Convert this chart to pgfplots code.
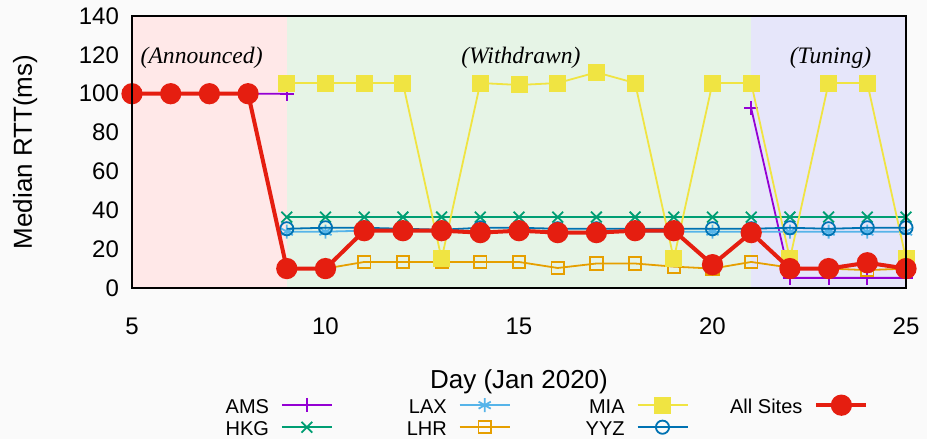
\documentclass[border=0pt]{standalone}
\usepackage{fontspec}
\setmainfont{Liberation Sans}
\newfontfamily\serifit{Liberation Serif}
\usepackage{pgfplots}
\pgfplotsset{compat=1.18}
\definecolor{cams}{HTML}{9400D3}
\definecolor{chkg}{HTML}{009E73}
\definecolor{clax}{HTML}{56B4E9}
\definecolor{clhr}{HTML}{E69F00}
\definecolor{cmia}{HTML}{F0E442}
\definecolor{cyyz}{HTML}{0072B2}
\definecolor{call}{HTML}{E51E10}
\definecolor{bgann}{HTML}{FFE8E8}
\definecolor{bgwd}{HTML}{E6F4E6}
\definecolor{bgtun}{HTML}{E6E6FA}
\definecolor{pagebg}{HTML}{FAFAFA}
\newcommand{\lt}[1]{\makebox[63pt][r]{\rule[-2.5pt]{0pt}{12pt}#1\hspace{6pt}}}
\begin{document}
\begin{tikzpicture}
\path[use as bounding box, fill=pagebg] (-66pt,-75.5pt) rectangle (397.5pt,144pt);
\begin{axis}[
  scale only axis, width=387pt, height=136pt,
  at={(0,0)}, anchor=south west,
  xmin=5, xmax=25, ymin=0, ymax=140,
  xtick={5,10,15,20,25}, ytick={0,20,...,140},
  major tick length=0pt,
  tick label style={font=\fontsize{12}{14}\selectfont},
  /pgf/number format/assume math mode=true,
  xticklabel style={yshift=-11.5pt},
  yticklabel style={xshift=-3pt},
  xlabel={Day (Jan 2020)}, ylabel={Median RTT(ms)},
  label style={font=\fontsize{13}{15}\selectfont},
  xlabel style={at={(axis description cs:0.5,-0.3456)}, anchor=center},
  ylabel style={at={(axis description cs:-0.138,0.5)}, anchor=center, rotate=0},
  axis line style={black, line width=0.6pt},
  clip mode=individual,
  axis on top,
  legend columns=4,
  legend cell align=right,
  legend plot pos=right,
  legend style={at={(axis description cs:0.02972,-0.3904)}, anchor=north west,
    draw=none, fill=none, inner sep=0pt, outer sep=0pt,
    column sep=0pt, row sep=0pt,
    nodes={inner sep=0pt, outer sep=0pt},
    font=\fontsize{10}{12}\selectfont},
  legend image code/.code={\draw[#1, mark repeat=2, mark phase=2] plot coordinates {(0pt,0pt) (12.5pt,0pt) (25pt,0pt)};},
]
% backgrounds
\addplot[fill=bgann, draw=none, forget plot] coordinates {(5,0) (5,140) (9,140) (9,0)} -- cycle;
\addplot[fill=bgwd, draw=none, forget plot] coordinates {(9,0) (9,140) (21,140) (21,0)} -- cycle;
\addplot[fill=bgtun, draw=none, forget plot] coordinates {(21,0) (21,140) (25,140) (25,0)} -- cycle;

\node[font=\serifit\itshape\fontsize{11.8}{14}\selectfont] at (axis cs:6.8,118.3) {(Announced)};
\node[font=\serifit\itshape\fontsize{11.8}{14}\selectfont] at (axis cs:15.05,118.3) {(Withdrawn)};
\node[font=\serifit\itshape\fontsize{11.8}{14}\selectfont] at (axis cs:23.05,118.3) {(Tuning)};

% AMS
\addplot[cams, line width=0.9pt, mark=+, mark size=3.6pt, forget plot, unbounded coords=jump] coordinates {
(5,100) (6,100) (7,100) (8,100) (9,100) (10,nan) (20,nan) (21,92.5) (22,5.2) (23,5.2) (24,5.2) (25,5.2)};
% HKG
\addplot[chkg, line width=0.9pt, mark=x, mark size=3.8pt, forget plot] coordinates {
(9,36.5) (10,36.5) (11,36.5) (12,36.5) (13,36.5) (14,36.5) (15,36.5) (16,36.5) (17,36.5) (18,36.5) (19,36.5) (20,36.5) (21,36.5) (22,36.5) (23,36.5) (24,36.5) (25,36.5)};
% LAX
\addplot[clax, line width=0.9pt, mark=asterisk, mark size=3.5pt, forget plot] coordinates {
(9,29) (10,29) (11,29.5) (12,29.5) (13,29) (14,29) (15,29) (16,29) (17,29) (18,29) (19,29) (20,29) (21,29) (22,29) (23,29) (24,29) (25,29)};
% LHR
\addplot[clhr, line width=0.9pt, mark=square, mark size=3.1pt, forget plot] coordinates {
(9,10) (10,10) (11,13.4) (12,13.4) (13,13.4) (14,13.4) (15,13.4) (16,10.3) (17,12.6) (18,12.6) (19,11) (20,10) (21,13.4) (22,10.5) (23,10) (24,9.2) (25,10)};
% MIA
\addplot[cmia, line width=0.9pt, mark=square*, mark size=3.8pt, forget plot] coordinates {
(9,105.5) (10,105.5) (11,105.5) (12,105.5) (13,15) (14,105.5) (15,104.5) (16,105.5) (17,111) (18,105.5) (19,15) (20,105.5) (21,105.5) (22,15) (23,105.5) (24,105.5) (25,15)};
% YYZ
\addplot[cyyz, line width=0.9pt, mark=o, mark size=3.3pt, forget plot] coordinates {
(9,30.5) (10,31) (11,31) (12,30.5) (13,30) (14,31) (15,31) (16,30.5) (17,30.5) (18,30.5) (19,30.5) (20,30.5) (21,30.5) (22,31) (23,30.5) (24,31) (25,31)};
% All sites
\addplot[call, line width=2pt, mark=*, mark size=4.3pt, forget plot] coordinates {
(5,100) (6,100) (7,100) (8,100) (9,10) (10,10) (11,29.5) (12,29.5) (13,29.5) (14,28.5) (15,29.5) (16,28.5) (17,28.5) (18,29.5) (19,29.5) (20,12) (21,28.5) (22,10) (23,10) (24,13) (25,10)};

% legend (row-wise: AMS LAX MIA All / HKG LHR YYZ)
\addlegendimage{cams, line width=0.9pt, mark=+, mark size=3.6pt}
\addlegendentry{\lt{AMS}}
\addlegendimage{clax, line width=0.9pt, mark=asterisk, mark size=3.5pt}
\addlegendentry{\lt{LAX}}
\addlegendimage{cmia, line width=0.9pt, mark=square*, mark size=3.8pt}
\addlegendentry{\lt{MIA}}
\addlegendimage{call, line width=2pt, mark=*, mark size=4.3pt}
\addlegendentry{\lt{All Sites}}
\addlegendimage{chkg, line width=0.9pt, mark=x, mark size=3.8pt}
\addlegendentry{\lt{HKG}}
\addlegendimage{clhr, line width=0.9pt, mark=square, mark size=3.1pt}
\addlegendentry{\lt{LHR}}
\addlegendimage{cyyz, line width=0.9pt, mark=o, mark size=3.3pt}
\addlegendentry{\lt{YYZ}}
\end{axis}
\end{tikzpicture}
\end{document}
